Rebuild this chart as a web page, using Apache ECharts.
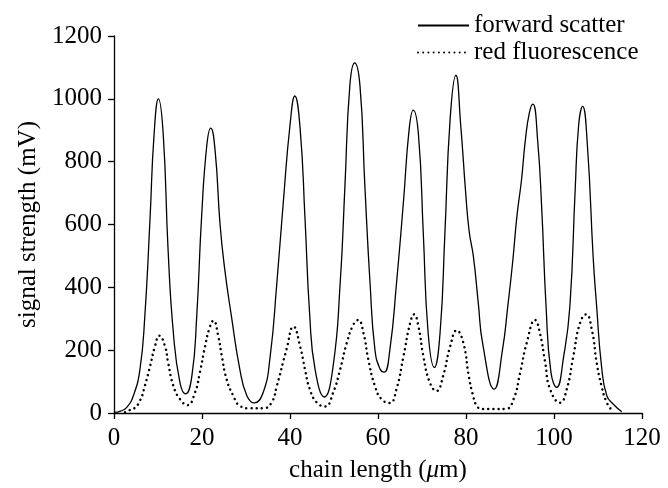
<!DOCTYPE html>
<html>
<head>
<meta charset="utf-8">
<script src="https://cdn.jsdelivr.net/npm/echarts@6/dist/echarts.min.js"></script>
<style>
    html, body { margin: 0; padding: 0; background: #fff; }
    #chart { width: 668px; height: 488px; }
</style>
</head>
<body>
<div id="chart"></div>
<script>
    // forward scatter trace (chain length in um, signal in mV)
    var scatterX = [0, 1.5, 2.9, 4.4, 5.9, 7.0, 8.2, 9.1, 10.1, 11.2, 12.3, 13.5, 15.0, 16.3, 17.7, 18.8, 19.9, 21.1, 22.0,
        23.0, 24.1, 25.2, 26.7, 28.6, 30.2, 31.9, 33.9, 35.5, 37.0, 38.5, 40.0, 41.1, 42.3, 43.4, 44.5, 45.7, 47.8,
        49.8, 51.4, 52.5, 53.6, 54.7, 55.9, 57.0, 58.2, 59.3, 60.5, 61.4, 62.7, 64.2, 65.8, 67.1, 68.0, 69.2, 70.3,
        71.4, 72.8, 74.1, 75.2, 76.4, 77.7, 78.8, 79.9, 80.7, 81.7, 82.8, 83.8, 86.4, 88.3, 89.5, 90.6, 91.6, 92.6,
        93.5, 94.4, 95.2, 96.3, 97.2, 98.2, 99.3, 100.6, 102.2, 103.6, 104.8, 105.6, 106.5, 107.6, 108.9, 109.7,
        110.8, 112.0, 113.5, 115.4];
    var scatterY = [2, 6, 18, 55, 139, 307, 622, 885, 1000, 885, 517, 254, 96, 61, 118, 307, 622, 853, 907,
        832, 601, 454, 307, 139, 55, 32, 65, 181, 412, 675, 916, 1009, 906, 622, 307, 139, 51,
        149, 412, 727, 1042, 1114, 1042, 727, 412, 202, 139, 130, 202, 412, 675, 906, 964, 885, 570,
        254, 145, 254, 570, 937, 1075, 916, 706, 580, 496, 349, 220, 76, 202, 340, 480, 630, 740,
        870, 955, 983, 864, 654, 338, 130, 82, 180, 338, 706, 916, 976, 850, 496, 338,
        149, 55, 28, 4];

    // red fluorescence trace
    var fluorX = [2.5, 2.9, 4.4, 5.9, 7.0, 8.2, 9.3, 10.3, 11.6, 12.3, 13.5, 15.0, 16.7, 18.4, 19.5, 20.7, 21.7, 22.6,
        23.7, 24.5, 25.6, 27.1, 28.6, 30.9, 33.9, 35.8, 37.0, 39.2, 40.8, 42.3, 43.4, 44.5, 46.1, 48.0, 49.8, 51.4,
        52.9, 54.4, 55.5, 56.7, 57.8, 59.3, 60.8, 62.7, 64.2, 65.8, 67.3, 68.2, 69.2, 70.3, 71.8, 73.3, 74.8, 76.4,
        77.9, 79.4, 80.6, 81.7, 82.5, 83.5, 89.0, 90.8, 92.3, 93.8, 95.7, 96.8, 98.0, 99.1, 101.4, 102.9, 104.4,
        105.9, 107.3, 108.6, 109.7, 110.8, 112.0, 113.1];
    var fluorY = [2, 7, 13, 39, 86, 149, 212, 246, 212, 160, 86, 44, 25, 65, 128, 212, 270, 294,
        244, 181, 107, 55, 23, 15, 15, 33, 86, 202, 275, 212, 139, 76, 33, 21, 65, 139,
        223, 281, 296, 254, 170, 86, 44, 32, 76, 181, 286, 314, 275, 181, 96, 70, 118, 212,
        263, 223, 120, 50, 22, 13, 13, 44, 128, 223, 296, 254, 160, 76, 33, 76, 181,
        286, 314, 265, 160, 86, 33, 10];

    var xTicks = [0, 20, 40, 60, 80, 100, 120];
    var yTicks = [0, 200, 400, 600, 800, 1000, 1200];

    var font = 'Liberation Serif';

    function zip(xs, ys) {
        var out = [];
        for (var i = 0; i < xs.length; i++) {
            out.push([xs[i], ys[i]]);
        }
        return out;
    }

    function merge(a, b) {
        var o = {};
        var k;
        for (k in a) { o[k] = a[k]; }
        for (k in b) { o[k] = b[k]; }
        return o;
    }

    var chart = echarts.init(document.getElementById('chart'));

    var axisCommon = {
        axisLine: { lineStyle: { color: '#000', width: 1.3 } },
        axisTick: { show: true, inside: false, length: 6, lineStyle: { color: '#000', width: 1.3 } },
        splitLine: { show: false }
    };

    var option = {
        animation: false,
        backgroundColor: '#fff',
        grid: { left: 114, right: 26, top: 36, bottom: 71, containLabel: false },
        legend: {
            orient: 'vertical',
            left: 412,
            top: 8,
            itemGap: 2,
            itemWidth: 51,
            itemHeight: 14,
            itemStyle: { opacity: 0 },
            textStyle: { color: '#000', fontFamily: font, fontSize: 25 },
            data: ['forward scatter', 'red fluorescence']
        },
        xAxis: merge(axisCommon, {
            type: 'value',
            min: xTicks[0],
            max: xTicks[xTicks.length - 1],
            interval: 20,
            name: 'chain length ({i|\u03bc}m)',
            nameLocation: 'middle',
            nameGap: 45,
            nameTextStyle: {
                color: '#000', fontFamily: font, fontSize: 25,
                rich: { i: { fontStyle: 'italic', fontFamily: font, fontSize: 25, color: '#000' } }
            },
            axisLabel: {
                color: '#000', fontFamily: font, fontSize: 25, margin: 13,
                formatter: function (v) { return String(v); }
            }
        }),
        yAxis: merge(axisCommon, {
            type: 'value',
            min: yTicks[0],
            max: yTicks[yTicks.length - 1],
            interval: 200,
            name: 'signal strength (mV)',
            nameLocation: 'middle',
            nameGap: 72,
            nameTextStyle: { color: '#000', fontFamily: font, fontSize: 25 },
            axisLabel: {
                color: '#000', fontFamily: font, fontSize: 25, margin: 12,
                formatter: function (v) { return String(v); }
            }
        }),
        series: [
            {
                name: 'forward scatter',
                type: 'line',
                data: zip(scatterX, scatterY),
                symbol: 'none',
                smooth: 0.5,
                lineStyle: { color: '#000', width: 1.3 },
                itemStyle: { color: '#000' }
            },
            {
                name: 'red fluorescence',
                type: 'line',
                data: zip(fluorX, fluorY),
                symbol: 'none',
                smooth: 0.5,
                lineStyle: { color: '#000', width: 2.5, type: [0.01, 5.2], cap: 'round' },
                itemStyle: { color: '#000' }
            }
        ]
    };

    chart.setOption(option);
</script>
</body>
</html>
